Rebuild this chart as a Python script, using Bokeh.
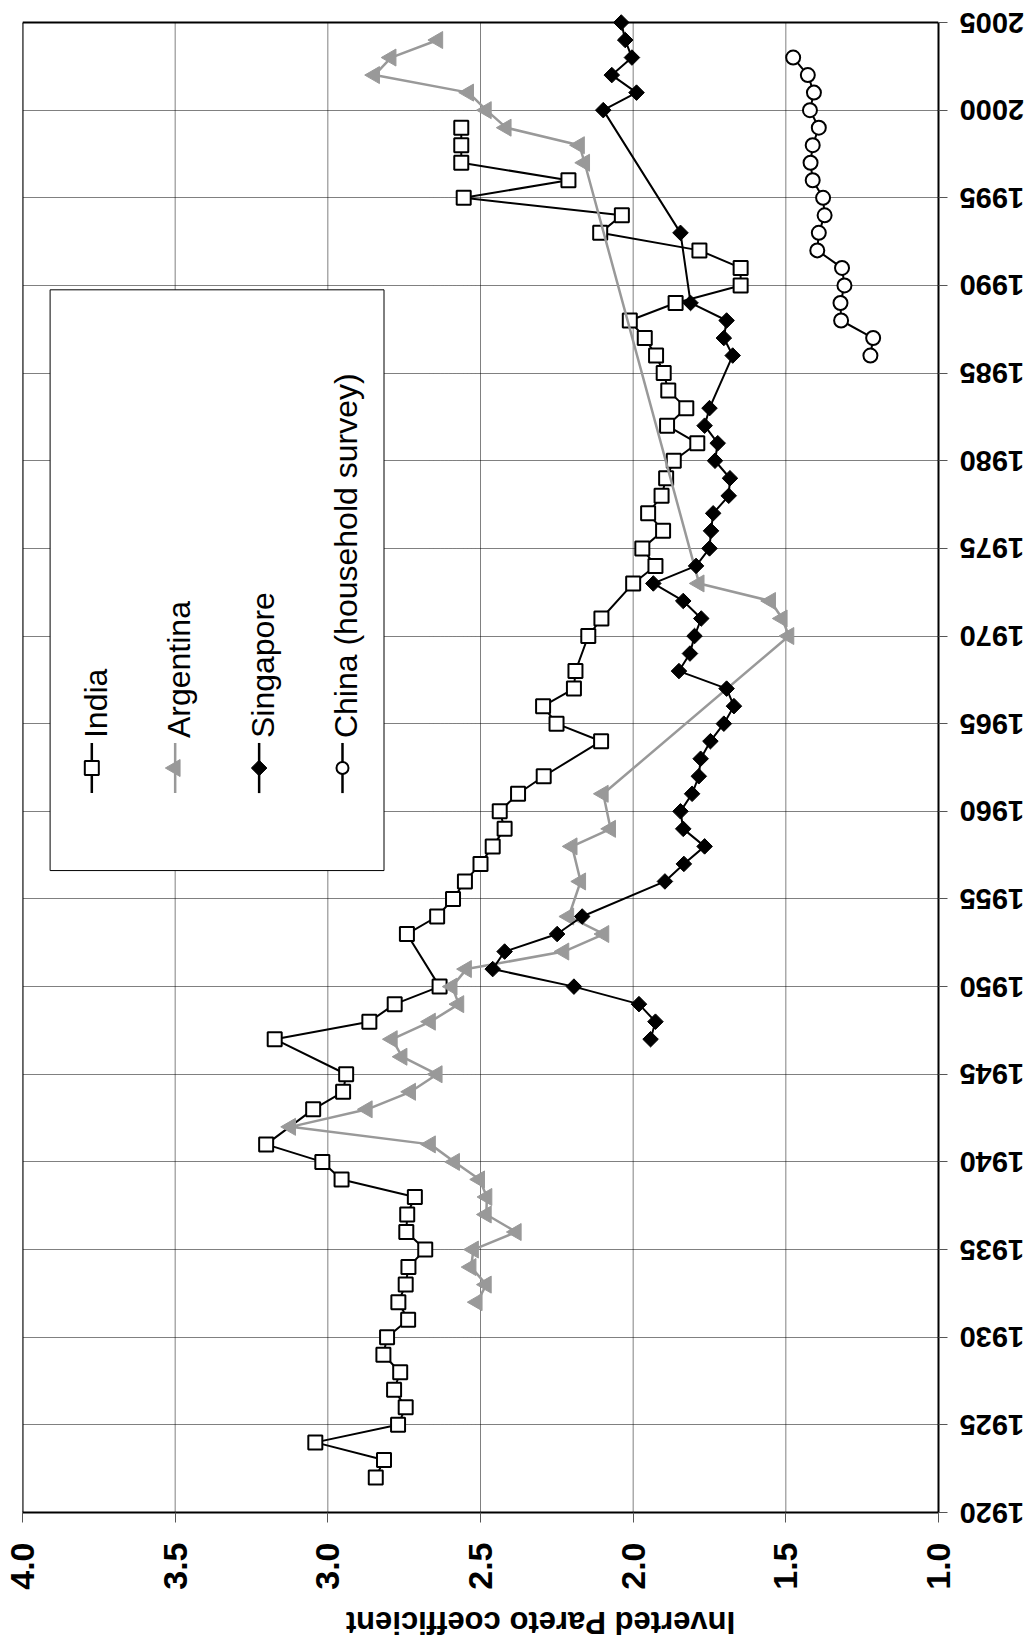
import math
from bokeh.plotting import figure
from bokeh.layouts import row, column
from bokeh.models import Range1d, FixedTicker, PrintfTickFormatter
from bokeh.core.properties import value
from bokeh.embed import file_html
from bokeh.resources import INLINE

# ---------------- data ----------------
india_years = [1922, 1923, 1924, 1925, 1926, 1927, 1928, 1929, 1930, 1931, 1932, 1933, 1934,
               1935, 1936, 1937, 1938, 1939, 1940, 1941, 1943, 1944, 1945, 1947, 1948, 1949,
               1950, 1953, 1954, 1955, 1956, 1957, 1958, 1959, 1960, 1961, 1962, 1964, 1965,
               1966, 1967, 1968, 1970, 1971, 1973, 1974, 1975, 1976, 1977, 1978, 1979, 1980,
               1981, 1982, 1983, 1984, 1985, 1986, 1987, 1988, 1989, 1990, 1991, 1992, 1993,
               1994, 1995, 1996, 1997, 1998, 1999]
india_vals = [2.843, 2.816, 3.041, 2.770, 2.745, 2.783, 2.763, 2.818, 2.806, 2.737, 2.769, 2.745,
              2.736, 2.681, 2.743, 2.740, 2.715, 2.955, 3.018, 3.202, 3.048, 2.950, 2.940, 3.174,
              2.864, 2.781, 2.634, 2.741, 2.642, 2.590, 2.551, 2.500, 2.460, 2.421, 2.437, 2.377,
              2.293, 2.105, 2.251, 2.295, 2.194, 2.189, 2.147, 2.104, 2.000, 1.927, 1.970, 1.902,
              1.951, 1.907, 1.892, 1.867, 1.790, 1.889, 1.826, 1.885, 1.900, 1.925, 1.962, 2.011,
              1.861, 1.648, 1.648, 1.783, 2.108, 2.037, 2.555, 2.212, 2.563, 2.563, 2.563]

argentina_years = [1932, 1933, 1934, 1935, 1936, 1937, 1938, 1939, 1940, 1941, 1942, 1943, 1944,
                   1945, 1946, 1947, 1948, 1949, 1950, 1951, 1952, 1953, 1954, 1956, 1958, 1959,
                   1961, 1970, 1971, 1972, 1973, 1997, 1998, 1999, 2000, 2001, 2002, 2003, 2004]
argentina_vals = [2.511, 2.481, 2.531, 2.523, 2.383, 2.481, 2.479, 2.503, 2.585, 2.664, 3.122,
                  2.871, 2.729, 2.642, 2.757, 2.789, 2.664, 2.571, 2.593, 2.546, 2.227, 2.096,
                  2.211, 2.172, 2.200, 2.074, 2.098, 1.490, 1.512, 1.550, 1.784, 2.159, 2.176,
                  2.416, 2.481, 2.539, 2.847, 2.793, 2.640]

singapore_years = [1947, 1948, 1949, 1950, 1951, 1952, 1953, 1954, 1956, 1957, 1958, 1959, 1960,
                   1961, 1962, 1963, 1964, 1965, 1966, 1967, 1968, 1969, 1970, 1971, 1972, 1973,
                   1974, 1975, 1976, 1977, 1978, 1979, 1980, 1981, 1982, 1983, 1986, 1987, 1988,
                   1989, 1993, 2000, 2001, 2002, 2003, 2004, 2005]
singapore_vals = [1.943, 1.927, 1.981, 2.194, 2.460, 2.421, 2.249, 2.167, 1.896, 1.834, 1.766,
                  1.836, 1.845, 1.807, 1.785, 1.779, 1.747, 1.703, 1.670, 1.694, 1.850, 1.814,
                  1.799, 1.777, 1.836, 1.934, 1.794, 1.750, 1.745, 1.738, 1.687, 1.683, 1.732,
                  1.723, 1.766, 1.750, 1.674, 1.703, 1.694, 1.812, 1.845, 2.098, 1.989, 2.070,
                  2.004, 2.026, 2.039]

china_years = [1986, 1987, 1988, 1989, 1990, 1991, 1992, 1993, 1994, 1995, 1996, 1997, 1998,
               1999, 2000, 2001, 2002, 2003]
china_vals = [1.223, 1.214, 1.319, 1.321, 1.308, 1.316, 1.397, 1.392, 1.373, 1.378, 1.412,
              1.419, 1.412, 1.392, 1.421, 1.408, 1.428, 1.476]

value_ticks = [1.0, 1.5, 2.0, 2.5, 3.0, 3.5, 4.0]
year_ticks = list(range(1920, 2006, 5))
year_labels = [str(t) for t in year_ticks]
series_names = ["India", "Argentina", "Singapore", "China (household survey)"]
axis_title = "Inverted Pareto coefficient"

GRAY = "#999999"
FONT = "Liberation Sans"

# ---------------- layout constants (pixels) ----------------
FRAME_W, PLOT_H = 916, 1490          # size of the drawn plot box
PAD_TOP = 22                         # white space above the plot box (inside the frame)
LEFT, RIGHT, BOTTOM = 22, 20, 80
VMAX, VMIN = 4.0, 1.0
YEAR0, YEAR1 = 1920, 2005
px_per_year = PLOT_H / (YEAR1 - YEAR0)
MAIN_W = LEFT + FRAME_W + RIGHT
SIDE_W = 1032 - MAIN_W
SIDE_PAD_BOTTOM = 40
LABEL_X = 1          # left edge of the year labels inside the side panel
BOT_H = 48
TITLE_X = 540        # horizontal centre of the axis title on the page
TITLE_Y = 30         # distance of the title centre from the top of the bottom panel

y_top = YEAR1 + PAD_TOP / px_per_year

# ---------------- main figure (the chart is drawn rotated by 90 degrees) ----------------
p = figure(frame_width=FRAME_W, frame_height=PLOT_H + PAD_TOP,
           x_range=Range1d(VMAX, VMIN), y_range=Range1d(YEAR0, y_top),
           x_axis_location="below", y_axis_location="right", title_location=None,
           output_backend="svg", toolbar_location=None,
           min_border_left=LEFT, min_border_top=0, min_border_right=RIGHT,
           min_border_bottom=BOTTOM)
p.background_fill_color = "white"
p.border_fill_color = "white"
p.outline_line_color = None

xa = p.xaxis[0]
xa.ticker = FixedTicker(ticks=value_ticks)
xa.formatter = PrintfTickFormatter(format="%.1f")
xa.major_label_orientation = math.pi / 2
xa.major_label_text_font = FONT
xa.major_label_text_font_style = "bold"
xa.major_label_text_font_size = "34px"
xa.major_label_text_color = "black"
xa.major_label_standoff = 20
xa.axis_line_width = 2
xa.axis_line_color = "black"
xa.major_tick_out = 10
xa.major_tick_in = 0
xa.major_tick_line_color = "#555555"
xa.minor_tick_line_color = None

ya = p.yaxis[0]
ya.ticker = FixedTicker(ticks=year_ticks)
ya.bounds = (YEAR0, YEAR1)
ya.major_label_text_color = None      # year labels are drawn upside down in the side panel
ya.axis_line_width = 2
ya.axis_line_color = "black"
ya.major_tick_out = 9
ya.major_tick_in = 0
ya.major_tick_line_color = "#555555"
ya.minor_tick_line_color = None

p.xgrid.visible = False
yg = p.ygrid[0]
yg.ticker = ya.ticker
yg.grid_line_color = "black"
yg.grid_line_dash = "1 1"
yg.grid_line_width = 1

# vertical grid lines limited to the plot box
p.segment(x0=value_ticks, y0=[YEAR0] * len(value_ticks), x1=value_ticks,
          y1=[YEAR1] * len(value_ticks), line_color="black", line_dash="1 1", line_width=1)
# top and left edges of the plot box
p.segment(x0=[VMAX, VMAX], y0=[YEAR1, YEAR0], x1=[VMIN, VMAX], y1=[YEAR1, YEAR1],
          line_color="black", line_width=2)

# ---------------- series ----------------
p.line(india_vals, india_years, line_color="black", line_width=2)
p.scatter(india_vals, india_years, marker="square", size=14,
          fill_color="white", line_color="black", line_width=2)

p.line(argentina_vals, argentina_years, line_color=GRAY, line_width=2.5)
p.scatter(argentina_vals, argentina_years, marker="triangle", size=17, angle=math.pi / 2,
          fill_color=GRAY, line_color=GRAY, line_width=1)

p.line(singapore_vals, singapore_years, line_color="black", line_width=2)
p.scatter(singapore_vals, singapore_years, marker="square", size=11, angle=math.pi / 4,
          fill_color="black", line_color="black", line_width=1)

p.line(china_vals, china_years, line_color="black", line_width=2)
p.scatter(china_vals, china_years, marker="circle", size=14,
          fill_color="white", line_color="black", line_width=2)

# ---------------- legend (drawn manually, rotated) ----------------
leg_left, leg_right, leg_top, leg_bottom = 3.9096, 2.816, 1989.75, 1956.62
p.quad(left=[leg_left], right=[leg_right], top=[leg_top], bottom=[leg_bottom],
       fill_color="white", line_color="black", line_width=1)

entry_x = [3.773, 3.500, 3.225, 2.952]
seg_top, seg_bot, mark_y, text_y = 1963.9, 1961.04, 1962.47, 1964.18
colors = ["black", GRAY, "black", "black"]
p.segment(x0=entry_x, y0=[seg_bot] * 4, x1=entry_x, y1=[seg_top] * 4,
          line_color=colors, line_width=2.5)
p.scatter([entry_x[0]], [mark_y], marker="square", size=14, fill_color="white",
          line_color="black", line_width=2)
p.scatter([entry_x[1]], [mark_y], marker="triangle", size=17, angle=math.pi / 2,
          fill_color=GRAY, line_color=GRAY)
p.scatter([entry_x[2]], [mark_y], marker="square", size=11, angle=math.pi / 4,
          fill_color="black", line_color="black")
p.scatter([entry_x[3]], [mark_y], marker="circle", size=12, fill_color="white",
          line_color="black", line_width=2)
p.text(x=[e - 0.013 for e in entry_x], y=[text_y] * 4, text=series_names,
       angle=math.pi / 2, text_align="left", text_baseline="middle",
       text_font=value(FONT), text_font_size="32px", text_color="black")

# ---------------- side panel with the upside-down year labels ----------------
side = figure(frame_width=SIDE_W, frame_height=PLOT_H + PAD_TOP + SIDE_PAD_BOTTOM,
              x_range=Range1d(0, SIDE_W),
              y_range=Range1d(YEAR0 - SIDE_PAD_BOTTOM / px_per_year, y_top),
              x_axis_location=None, y_axis_location=None, title_location=None,
              output_backend="svg", toolbar_location=None,
              min_border_left=0, min_border_right=0, min_border_top=0, min_border_bottom=0)
side.outline_line_color = None
side.grid.visible = False
side.background_fill_color = "white"
side.border_fill_color = "white"
side.text(x=[LABEL_X] * len(year_ticks), y=year_ticks, text=year_labels,
          angle=math.pi, text_align="right", text_baseline="middle",
          text_font=value(FONT), text_font_size="29px", text_font_style="bold",
          text_color="black")

# ---------------- bottom panel with the upside-down axis title ----------------
bottom = figure(frame_width=MAIN_W + SIDE_W, frame_height=BOT_H,
                x_range=Range1d(0, MAIN_W + SIDE_W), y_range=Range1d(0, BOT_H),
                x_axis_location=None, y_axis_location=None, title_location=None,
                output_backend="svg", toolbar_location=None,
                min_border_left=0, min_border_right=0, min_border_top=0, min_border_bottom=0)
bottom.outline_line_color = None
bottom.grid.visible = False
bottom.text(x=[TITLE_X], y=[BOT_H - TITLE_Y], text=[axis_title],
            angle=math.pi, text_align="center", text_baseline="middle",
            text_font=value(FONT), text_font_size="31px", text_font_style="bold",
            text_color="black")

layout = column(row(p, side), bottom)
open("out.html", "w").write(file_html(layout, INLINE))
